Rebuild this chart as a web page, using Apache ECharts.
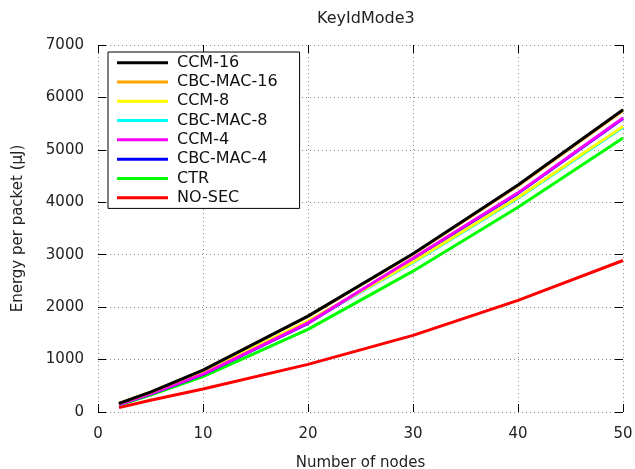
<!DOCTYPE html>
<html>
<head>
<meta charset="utf-8">
<script src="https://cdn.jsdelivr.net/npm/echarts@6/dist/echarts.min.js"></script>
<style>html,body{margin:0;padding:0;background:#fff}#c{width:635px;height:469px}</style>
</head>
<body>
<div id="c"></div>
<script>
var nodes = [2, 5, 10, 20, 30, 40, 50];
var seriesNames = ['CCM-16', 'CBC-MAC-16', 'CCM-8', 'CBC-MAC-8', 'CCM-4', 'CBC-MAC-4', 'CTR', 'NO-SEC'];
var ccm16    = [166, 380, 800, 1829, 3020, 4330, 5766];
var cbcmac16 = [164, 376, 796, 1822, 3008, 4315, 5752];
var ccm8     = [150, 355, 750, 1733, 2860, 4090, 5448];
var cbcmac8  = [148, 351, 743, 1722, 2848, 4076, 5432];
var ccm4     = [145, 345, 724, 1700, 2932, 4180, 5608];
var cbcmac4  = [143, 341, 718, 1692, 2922, 4170, 5598];
var ctr      = [130, 325, 674, 1575, 2686, 3905, 5227];
var nosec    = [84, 225, 440, 908, 1461, 2128, 2890];
var seriesValues = [ccm16, cbcmac16, ccm8, cbcmac8, ccm4, cbcmac4, ctr, nosec];
var colors = ['#000000', '#ffa500', '#ffff00', '#00ffff', '#ff00ff', '#0000ff', '#00ff00', '#ff0000'];
var zOrder = [10, 9, 8, 7, 8, 7, 6, 6];

var FONT = 'DejaVu Sans';
var chart = echarts.init(document.getElementById('c'), null, {renderer: 'canvas'});

var series = seriesNames.map(function (n, i) {
  return {
    name: n,
    type: 'line',
    xAxisIndex: 0,
    yAxisIndex: 0,
    data: nodes.map(function (x, j) { return [x, seriesValues[i][j]]; }),
    showSymbol: false,
    symbol: 'none',
    lineStyle: {width: 3, color: colors[i]},
    itemStyle: {color: colors[i]},
    z: zOrder[i],
    animation: false
  };
});

function gridLine() { return {show: true, lineStyle: {color: '#8a8a8a', type: [1, 3], width: 1}}; }
function tickStyle() { return {show: true, inside: true, length: 8, lineStyle: {color: '#000', width: 1}}; }
function noLine() { return {show: false, onZero: false}; }
function plain(v) { return String(v); }

chart.setOption({
  animation: false,
  backgroundColor: '#fff',
  title: {
    text: 'KeyIdMode3',
    left: 312, top: 6,
    textStyle: {fontFamily: FONT, fontSize: 16, fontWeight: 'normal', color: '#222'}
  },
  grid: {left: 98, right: 12, top: 45, bottom: 57, containLabel: false, outerBoundsMode: 'none'},
  legend: {
    orient: 'vertical',
    left: 108, top: 52,
    data: seriesNames,
    icon: 'rect',
    itemWidth: 51, itemHeight: 3,
    itemGap: 0,
    padding: [1, 22, 1, 9],
    borderColor: '#000', borderWidth: 1,
    backgroundColor: '#fff',
    textStyle: {fontFamily: FONT, fontSize: 16, color: '#111', lineHeight: 19.3, padding: [0, 0, 0, 4]},
    selectedMode: false,
    z: 20
  },
  xAxis: [{
    type: 'value', min: 0, max: 50, interval: 10, position: 'bottom',
    name: 'Number of nodes', nameLocation: 'middle', nameGap: 44,
    nameTextStyle: {fontFamily: FONT, fontSize: 15, color: '#222'},
    axisLine: noLine(),
    axisTick: tickStyle(),
    axisLabel: {fontFamily: FONT, fontSize: 15, color: '#222', margin: 15, formatter: plain},
    splitLine: gridLine()
  }, {
    type: 'value', min: 0, max: 50, interval: 10, position: 'top',
    axisLine: noLine(), axisTick: tickStyle(), axisLabel: {show: false}, splitLine: {show: false}
  }],
  yAxis: [{
    type: 'value', min: 0, max: 7000, interval: 1000, position: 'left',
    name: 'Energy per packet (μJ)', nameLocation: 'middle', nameGap: 72,
    nameTextStyle: {fontFamily: FONT, fontSize: 15, color: '#222'},
    axisLine: noLine(),
    axisTick: tickStyle(),
    axisLabel: {fontFamily: FONT, fontSize: 15, color: '#222', margin: 14, formatter: plain},
    splitLine: gridLine()
  }, {
    type: 'value', min: 0, max: 7000, interval: 1000, position: 'right',
    axisLine: noLine(), axisTick: tickStyle(), axisLabel: {show: false}, splitLine: {show: false}
  }],
  series: series
});
</script>
</body>
</html>
